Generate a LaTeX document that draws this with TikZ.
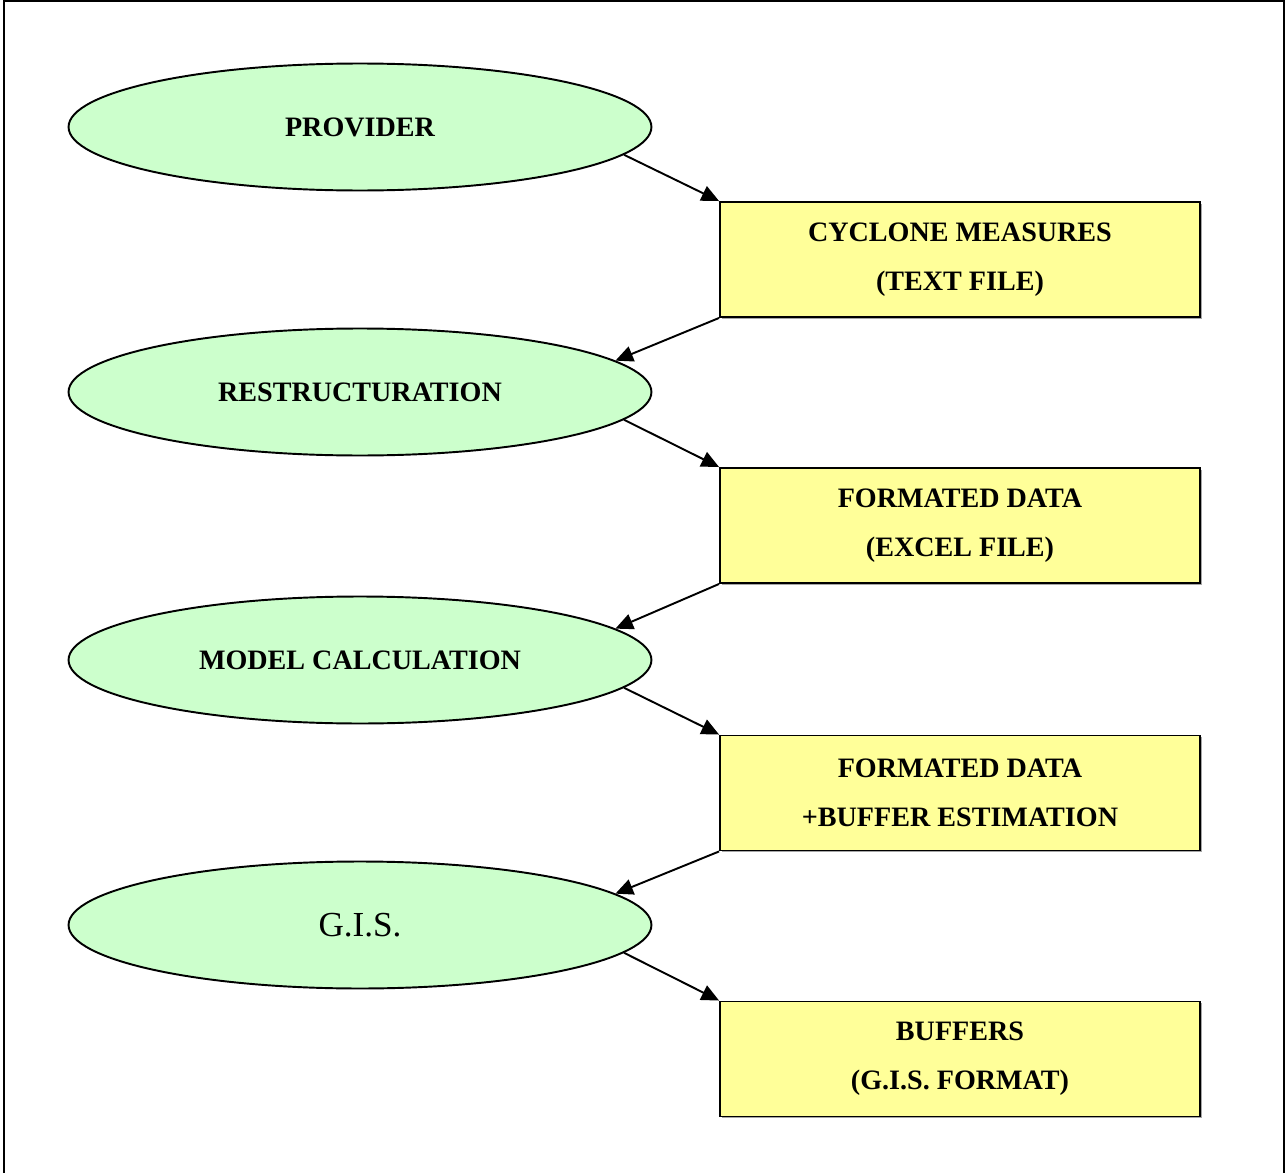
\documentclass[tikz,border=0pt]{standalone}
\usepackage{fontspec}
\setmainfont{Liberation Serif}
\usepackage{tikz}
\usetikzlibrary{shapes.geometric,arrows.meta,positioning,shadows}
\usepackage{xcolor}
\definecolor{stagegreen}{HTML}{CCFFCC}
\definecolor{datayellow}{HTML}{FFFF99}

\begin{document}
\begin{tikzpicture}[x=0.02cm,y=-0.02cm,
    stage/.style={ellipse, draw, line width=1.1pt, fill=stagegreen, minimum width=11.66cm, minimum height=2.54cm, inner sep=0pt, font=\fontsize{16}{26}\selectfont\bfseries},
    dataset/.style={rectangle, draw, line width=1.1pt, fill=datayellow, minimum width=9.6cm, minimum height=2.3cm, align=center, font=\fontsize{16}{28}\selectfont\bfseries, drop shadow={opacity=1, fill=gray!70, shadow xshift=1pt, shadow yshift=-1pt}},
    flow/.style={line width=1.1pt, -{Triangle[length=10pt,width=9pt]}}]
    \useasboundingbox (0,0) rectangle (1286,1173);
    % Frame (open at the bottom)
    \draw[line width=1.6pt] (4,1173) -- (4,1) -- (1284,1) -- (1284,1173);

    % Processing steps
    \node[stage] (prov) at (360,127) {PROVIDER};
    \node[stage] (restr) at (360,392) {RESTRUCTURATION};
    \node[stage] (model) at (360,660) {MODEL CALCULATION};
    \node[stage, font=\fontsize{20}{26}\selectfont] (gis) at (360,925) {G.I.S.};

    % Data produced
    \node[dataset] (cyc) at (960,259.5) {CYCLONE MEASURES\\(TEXT FILE)};
    \node[dataset] (fmt) at (960,525.5) {FORMATED DATA\\(EXCEL FILE)};
    \node[dataset] (buf) at (960,793) {FORMATED DATA\\+BUFFER ESTIMATION};
    \node[dataset] (out) at (960,1059) {BUFFERS\\(G.I.S. FORMAT)};

    % Arrows
    \draw[flow] (prov.-6) -- (cyc.north west);
    \draw[flow] (cyc.south west) -- (restr.7);
    \draw[flow] (restr.-6) -- (fmt.north west);
    \draw[flow] (fmt.south west) -- (model.7);
    \draw[flow] (model.-6) -- (buf.north west);
    \draw[flow] (buf.south west) -- (gis.7);
    \draw[flow] (gis.-6) -- (out.north west);
\end{tikzpicture}
\end{document}
